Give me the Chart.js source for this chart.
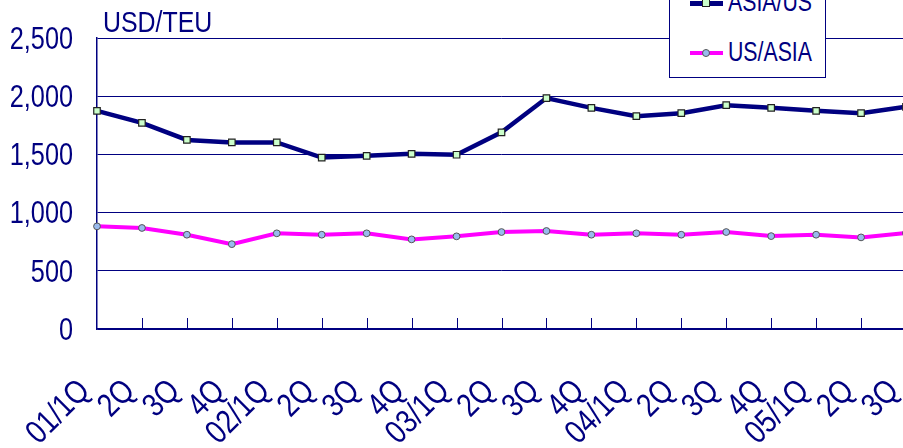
<!DOCTYPE html>
<html>
<head>
<meta charset="utf-8">
<script src="https://cdn.jsdelivr.net/npm/chart.js@4.4.0/dist/chart.umd.min.js"></script>
<style>
  html, body { margin: 0; padding: 0; background: #fff; overflow: hidden; }
  #wrap { position: relative; width: 915px; height: 448px; }
  #unit { position: absolute; left: 103px; top: 5px; font: 30px 'Liberation Sans', Arial, sans-serif; color: #000080;
          transform: scaleX(0.83); transform-origin: 0 0; white-space: nowrap; }
  #legend { position: absolute; left: 669px; top: -30px; width: 155px; height: 106px; border: 1.5px solid #000080; background: #fff; }
  .row { position: absolute; left: 0; height: 30px; width: 155px; }
  .row .ln { position: absolute; left: 20px; width: 33px; top: 13px; height: 4px; }
  .row .mk { position: absolute; }
  .row .tx { position: absolute; left: 58px; top: -2px; font: 28px 'Liberation Sans', Arial, sans-serif; color: #000080;
             transform: scaleX(0.76); transform-origin: 0 0; white-space: nowrap; }
</style>
</head>
<body>
<div id="wrap">
  <canvas id="myChart"></canvas>
  <div id="unit">USD/TEU</div>
  <div id="legend"></div>
</div>
<script>
'use strict';

var categories = ['01/1Q', '2Q', '3Q', '4Q', '02/1Q', '2Q', '3Q', '4Q', '03/1Q', '2Q', '3Q', '4Q',
                  '04/1Q', '2Q', '3Q', '4Q', '05/1Q', '2Q', '3Q'];
var asiaUs = [1874, 1771, 1624, 1603, 1603, 1473, 1488, 1505, 1497, 1690, 1984, 1900,
              1828, 1854, 1923, 1900, 1874, 1854, 1909];
var usAsia = [882, 868, 810, 729, 822, 810, 822, 770, 796, 833, 842, 810,
              822, 810, 833, 798, 810, 787, 824];
var yTicks = [0, 500, 1000, 1500, 2000, 2500];

(function() {
  var navy = '#000080';
  var ctx = document.getElementById('myChart');

  // inner tick marks + narrow tick labels (the original uses a condensed face)
  var axisDecor = {
    id: 'axisDecor',
    afterDraw: function(chart) {
      var x = chart.scales.x;
      var y = chart.scales.y;
      var c = chart.ctx;
      var bottom = chart.chartArea.bottom;
      var i, px;
      c.save();
      c.strokeStyle = navy;
      c.lineWidth = 1;
      for (i = 1; i < categories.length; i++) {
        px = Math.round(x.getPixelForValue(i)) + 0.5;
        c.beginPath();
        c.moveTo(px, bottom - 11);
        c.lineTo(px, bottom);
        c.stroke();
      }

      c.fillStyle = navy;
      c.textAlign = 'right';
      c.textBaseline = 'middle';
      c.font = "32px 'Liberation Sans', Arial, sans-serif";
      yTicks.forEach(function(v) {
        c.save();
        c.translate(73, y.getPixelForValue(v) + 2);
        c.scale(0.79, 1);
        c.fillText(v.toLocaleString('en-US'), 0, 0);
        c.restore();
      });

      c.font = "33px 'Liberation Sans', Arial, sans-serif";
      for (i = 0; i < categories.length; i++) {
        px = x.getPixelForValue(i);
        c.save();
        c.translate(px - 12, bottom + 57);
        c.rotate(-Math.PI / 4);
        c.scale(0.83, 1);
        c.fillText(categories[i], 0, 0);
        c.restore();
      }
      c.restore();
    }
  };

  var data = {
    labels: categories,
    datasets: [
      {
        label: 'ASIA/US',
        data: asiaUs,
        borderColor: navy,
        borderWidth: 4.5,
        pointStyle: 'rect',
        pointRadius: 4.6,
        pointBackgroundColor: '#ccffcc',
        pointBorderColor: '#222',
        pointBorderWidth: 1.2,
        tension: 0
      },
      {
        label: 'US/ASIA',
        data: usAsia,
        borderColor: '#ff00ff',
        borderWidth: 4,
        pointStyle: 'circle',
        pointRadius: 3.4,
        pointBackgroundColor: '#99bbee',
        pointBorderColor: '#555',
        pointBorderWidth: 1,
        tension: 0
      }
    ]
  };

  new Chart(ctx, {
    type: 'line',
    data: data,
    plugins: [axisDecor],
    options: {
      responsive: true,
      maintainAspectRatio: false,
      animation: false,
      layout: { padding: { top: 38, right: 9, left: 0, bottom: 0 } },
      plugins: {
        legend: { display: false },
        tooltip: { enabled: false }
      },
      scales: {
        x: {
          offset: false,
          grid: { display: false },
          border: { color: navy, width: 1.5 },
          afterFit: function(scale) { scale.height = 119; },
          ticks: { display: false, autoSkip: false }
        },
        y: {
          min: 0,
          max: 2500,
          afterFit: function(scale) { scale.width = 97; },
          afterBuildTicks: function(scale) {
            scale.ticks = yTicks.map(function(v) { return { value: v }; });
          },
          grid: { color: navy, lineWidth: 1, drawTicks: false },
          border: { color: navy, width: 1.5 },
          ticks: { display: false }
        }
      }
    }
  });

  // legend box drawn in html, partly above the top edge like the original
  var legend = document.getElementById('legend');
  var entries = [
    { text: 'ASIA/US', line: navy, lh: 5, fill: '#ccffcc', stroke: '#222', round: false, top: 17 },
    { text: 'US/ASIA', line: '#ff00ff', lh: 4, fill: '#99bbee', stroke: '#555', round: true, top: 67 }
  ];
  entries.forEach(function(e) {
    var row = document.createElement('div');
    row.className = 'row';
    row.style.top = e.top + 'px';
    var ln = document.createElement('div');
    ln.className = 'ln';
    ln.style.background = e.line;
    ln.style.height = e.lh + 'px';
    var mk = document.createElement('div');
    mk.className = 'mk';
    mk.style.left = '32px';
    mk.style.top = '11px';
    mk.style.width = '6px';
    mk.style.height = '6px';
    mk.style.background = e.fill;
    mk.style.border = '1px solid ' + e.stroke;
    if (e.round) mk.style.borderRadius = '50%';
    var tx = document.createElement('div');
    tx.className = 'tx';
    tx.textContent = e.text;
    row.appendChild(ln);
    row.appendChild(mk);
    row.appendChild(tx);
    legend.appendChild(row);
  });
})();
</script>
</body>
</html>
